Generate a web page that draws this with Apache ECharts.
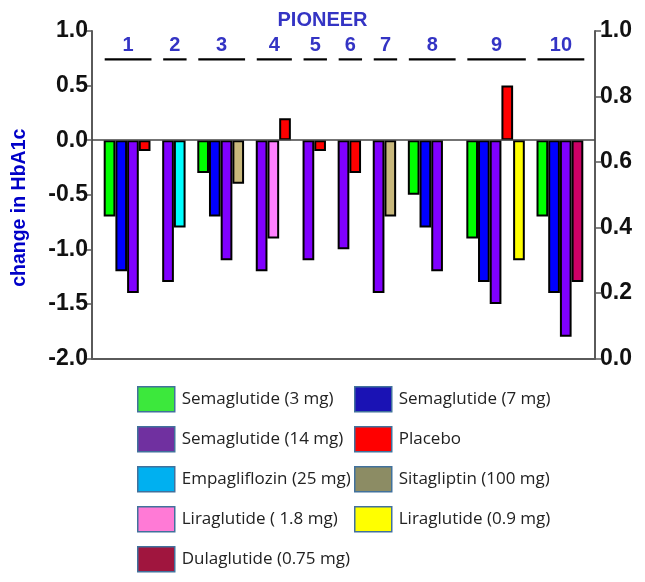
<!DOCTYPE html>
<html><head><meta charset="utf-8">
<script src="https://cdn.jsdelivr.net/npm/echarts@6/dist/echarts.min.js"></script>
<style>html,body{margin:0;padding:0;background:#fff}#c{width:645px;height:582px}</style>
</head><body><div id="c"></div>
<script>
// ---- data ----
const armNames = ['Semaglutide (3 mg)', 'Semaglutide (7 mg)', 'Semaglutide (14 mg)', 'Placebo',
  'Empagliflozin (25 mg)', 'Sitagliptin (100 mg)', 'Liraglutide ( 1.8 mg)', 'Liraglutide (0.9 mg)', 'Dulaglutide (0.75 mg)'];
const barColors = ['#00FF00', '#0000FF', '#8000FF', '#FF0000', '#00FFFF', '#C8B87C', '#FF80FF', '#FFFF00', '#CC0066'];
const legendColors = ['#3CE83C', '#1A12B4', '#7030A0', '#FF0000', '#00B0F0', '#8C8C64', '#FF7AD6', '#FFFF00', '#A0153E'];
const trialLabels = ['1', '2', '3', '4', '5', '6', '7', '8', '9', '10'];
// arms of each trial, in drawing order (indices into armNames)
const trialArms = [
  [0, 1, 2, 3],
  [2, 4],
  [0, 1, 2, 5],
  [2, 6, 3],
  [2, 3],
  [2, 3],
  [2, 5],
  [0, 1, 2, 3],
  [0, 1, 2, 3, 7],
  [0, 1, 2, 8]
];
// change in HbA1c per arm (null = arm not shown)
const trialValues = [
  [-0.7, -1.2, -1.4, -0.1],
  [-1.3, -0.8],
  [-0.3, -0.7, -1.1, -0.4],
  [-1.2, -0.9, 0.2],
  [-1.1, -0.1],
  [-1.0, -0.3],
  [-1.4, -0.7],
  [-0.5, -0.8, -1.2, null],
  [-0.9, -1.3, -1.5, 0.5, -1.1],
  [-0.7, -1.4, -1.8, -1.3]
];
const leftAxisRange = [-2.0, 1.0, 0.5];
const rightAxisRange = [0.0, 1.0, 0.2];

// ---- build slots ----
const cats = ['start'];
const seriesData = armNames.map(() => []);
const trialSpans = [];
trialArms.forEach((arms, g) => {
  if (g > 0) cats.push('gap' + g);
  const start = cats.length;
  arms.forEach((a, i) => {
    const idx = cats.length;
    cats.push('PIONEER ' + trialLabels[g] + ' ' + armNames[a]);
    const v = trialValues[g][i];
    if (v !== null) seriesData[a][idx] = v;
  });
  trialSpans.push([start, cats.length - 1, g]);
});
cats.push('end');
seriesData.forEach(arr => { for (let i = 0; i < cats.length; i++) if (arr[i] === undefined) arr[i] = '-'; });

const blueText = '#3434C4';
const axisColor = '#5a5a5a';
const labelFont = { fontFamily: 'Arial, Liberation Sans', fontWeight: 'bold', fontSize: 23, color: '#111' };

const series = armNames.map((n, i) => ({
  name: n, type: 'bar', stack: 'trials', data: seriesData[i],
  barWidth: '100%', barCategoryGap: '0%', barGap: '0%',
  itemStyle: { color: barColors[i], borderColor: '#000', borderWidth: 2 },
  markLine: i === 0 ? {
    silent: true, symbol: 'none', label: { show: false },
    lineStyle: { color: '#444', width: 1.5, type: 'solid' },
    data: [{ yAxis: 0 }]
  } : undefined
}));

series.push({
  type: 'custom', name: 'trials', silent: true, z: 5,
  data: trialSpans,
  encode: { x: [0, 1] },
  renderItem: function (params, api) {
    const s = api.value(0), e = api.value(1), g = api.value(2);
    const w = api.size([1, 0])[0];
    const p1 = api.coord([s, 0.74]);
    const p2 = api.coord([e, 0.74]);
    const pt = api.coord([s, 0.865]);
    const x1 = p1[0] - w / 2 + 1, x2 = p2[0] + w / 2 + 1;
    return {
      type: 'group', children: [
        { type: 'line', shape: { x1: x1, y1: p1[1], x2: x2, y2: p1[1] }, style: { stroke: '#000', lineWidth: 2.2 } },
        { type: 'text', x: (x1 + x2) / 2, y: pt[1], style: { text: trialLabels[g], fill: blueText, font: 'bold 20px Arial, Liberation Sans', align: 'center', verticalAlign: 'middle' } }
      ]
    };
  }
});

function legendCol(indices, left) {
  return {
    orient: 'vertical', left: left, top: 386, padding: 0,
    itemWidth: 37, itemHeight: 25, itemGap: 13.5, icon: 'rect', selectedMode: false,
    textStyle: { fontFamily: 'Open Sans', fontSize: 17, color: '#222', padding: [0, 0, 0, 2] },
    data: indices.map(i => ({ name: armNames[i], itemStyle: { color: legendColors[i], borderColor: '#41719C', borderWidth: 1.5 } }))
  };
}

const option = {
  animation: false,
  backgroundColor: '#fff',
  title: { text: 'PIONEER', left: 'center', top: 5, textStyle: { color: blueText, fontSize: 20, fontWeight: 'bold', fontFamily: 'Arial, Liberation Sans' } },
  grid: { left: 92, right: 50, top: 31, bottom: 223.5, containLabel: false },
  legend: [legendCol([0, 2, 4, 6, 8], 137), legendCol([1, 3, 5, 7], 354)],
  xAxis: {
    type: 'category', data: cats, boundaryGap: true,
    axisLine: { show: true, onZero: false, lineStyle: { color: axisColor, width: 2 } },
    axisTick: { show: false }, axisLabel: { show: false }, splitLine: { show: false }
  },
  yAxis: [
    {
      type: 'value', position: 'left', min: leftAxisRange[0], max: leftAxisRange[1], interval: leftAxisRange[2],
      axisLine: { show: true, lineStyle: { color: axisColor, width: 2 } },
      axisTick: { show: true, length: 6, lineStyle: { color: axisColor, width: 1.5 } },
      axisLabel: Object.assign({ margin: 4, formatter: v => v.toFixed(1) }, labelFont),
      splitLine: { show: false },
      name: 'change in HbA1c', nameLocation: 'middle', nameGap: 62, nameRotate: 90,
      nameTextStyle: { color: '#0000C8', fontSize: 19.5, fontWeight: 'bold', fontFamily: 'Arial, Liberation Sans', padding: [0, 26, 0, 0] }
    },
    {
      type: 'value', position: 'right', min: rightAxisRange[0], max: rightAxisRange[1], interval: rightAxisRange[2],
      axisLine: { show: true, lineStyle: { color: axisColor, width: 2 } },
      axisTick: { show: true, length: 6, lineStyle: { color: axisColor, width: 1.5 } },
      axisLabel: Object.assign({ margin: 5, formatter: v => v.toFixed(1) }, labelFont),
      splitLine: { show: false }
    }
  ],
  series: series
};
const chart = echarts.init(document.getElementById('c'), null, { renderer: 'canvas' });
chart.setOption(option);
</script></body></html>
